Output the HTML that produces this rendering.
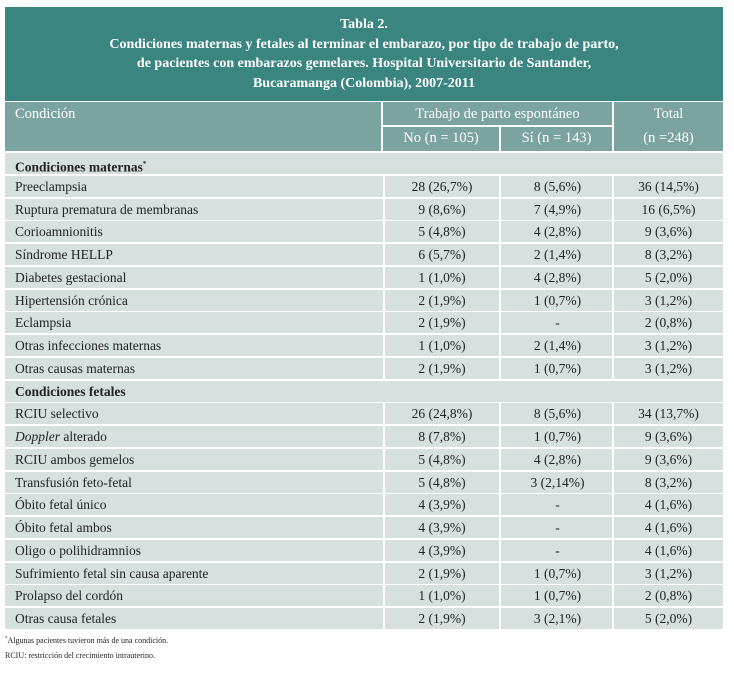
<!DOCTYPE html>
<html><head><meta charset="utf-8">
<style>
body{margin:0;width:734px;height:682px;background:#fff;font-family:"Liberation Serif",serif;position:relative;overflow:hidden}
#title{position:absolute;left:5px;top:7px;width:718px;height:94px;background:#3a857f;color:#fff;text-align:center;font-weight:bold;font-size:14px;line-height:19.5px;box-sizing:border-box;padding-top:8px}
.h{position:absolute;background:#7ba3a0;color:#fff;font-size:14.5px;box-sizing:border-box}
.r{position:absolute;left:5px;width:718px;height:21px;background:#d7e0df;font-size:13.5px;color:#222}
.c{position:absolute;top:0;height:21px;line-height:22px;box-sizing:border-box}
.fn{position:absolute;left:5px;font-size:8px;color:#222}
</style></head><body>
<div id="title">Tabla 2.<br>Condiciones maternas y fetales al terminar el embarazo, por tipo de trabajo de parto,<br>de pacientes con embarazos gemelares. Hospital Universitario de Santander,<br>Bucaramanga (Colombia), 2007-2011</div>
<div class="h" style="left:5px;top:102px;width:376px;height:49px;padding:4px 0 0 10px">Condición</div>
<div class="h" style="left:383px;top:102px;width:229px;height:23px;text-align:center;line-height:24px">Trabajo de parto espontáneo</div>
<div class="h" style="left:383px;top:127px;width:116px;height:24px;text-align:center;line-height:22px">No (n = 105)</div>
<div class="h" style="left:501px;top:127px;width:111px;height:24px;text-align:center;line-height:22px">Sí (n = 143)</div>
<div class="h" style="left:614px;top:102px;width:109px;height:49px;text-align:center;line-height:24px">Total<br>(n =248)</div>
<div id="body"></div>
<div class="fn" style="top:636px"><sup style="font-size:5px">*</sup>Algunas pacientes tuvieron más de una condición.</div>
<div class="fn" style="top:651px">RCIU: restricción del crecimiento intrauterino.</div>
<script>
const conditions=["Condiciones maternas*","Preeclampsia","Ruptura prematura de membranas","Corioamnionitis","Síndrome HELLP","Diabetes gestacional","Hipertensión crónica","Eclampsia","Otras infecciones maternas","Otras causas maternas","Condiciones fetales","RCIU selectivo","Doppler alterado","RCIU ambos gemelos","Transfusión feto-fetal","Óbito fetal único","Óbito fetal ambos","Oligo o polihidramnios","Sufrimiento fetal sin causa aparente","Prolapso del cordón","Otras causa fetales"];
const colNo=["","28 (26,7%)","9 (8,6%)","5 (4,8%)","6 (5,7%)","1 (1,0%)","2 (1,9%)","2 (1,9%)","1 (1,0%)","2 (1,9%)","","26 (24,8%)","8 (7,8%)","5 (4,8%)","5 (4,8%)","4 (3,9%)","4 (3,9%)","4 (3,9%)","2 (1,9%)","1 (1,0%)","2 (1,9%)"];
const colSi=["","8 (5,6%)","7 (4,9%)","4 (2,8%)","2 (1,4%)","4 (2,8%)","1 (0,7%)","-","2 (1,4%)","1 (0,7%)","","8 (5,6%)","1 (0,7%)","4 (2,8%)","3 (2,14%)","-","-","-","1 (0,7%)","1 (0,7%)","3 (2,1%)"];
const colTotal=["","36 (14,5%)","16 (6,5%)","9 (3,6%)","8 (3,2%)","5 (2,0%)","3 (1,2%)","2 (0,8%)","3 (1,2%)","3 (1,2%)","","34 (13,7%)","9 (3,6%)","9 (3,6%)","8 (3,2%)","4 (1,6%)","4 (1,6%)","4 (1,6%)","3 (1,2%)","2 (0,8%)","5 (2,0%)"];
const body=document.getElementById('body');
const top0=153,rh=22.75;
conditions.forEach((c,i)=>{
 const r=document.createElement('div');r.className='r';r.style.top=(top0+i*rh)+'px';
 
 
 const sec=colNo[i]===''&&colSi[i]==='';
 let html='<div class="c" style="left:10px;'+(sec?'font-weight:bold':'')+'">'+(i===12?'<i>Doppler</i> alterado':c.replace('*','<sup style="font-size:7px">*</sup>'))+'</div>';
 if(!sec){
  html+='<div class="c" style="left:378px;width:116px;text-align:center;border-left:2px solid #fff">'+colNo[i]+'</div>';
  html+='<div class="c" style="left:494px;width:115px;text-align:center;border-left:2px solid #fff">'+colSi[i]+'</div>';
  html+='<div class="c" style="left:607px;width:111px;text-align:center;border-left:2px solid #fff">'+colTotal[i]+'</div>';
 }
 r.innerHTML=html;body.appendChild(r);
});
</script>
</body></html>
